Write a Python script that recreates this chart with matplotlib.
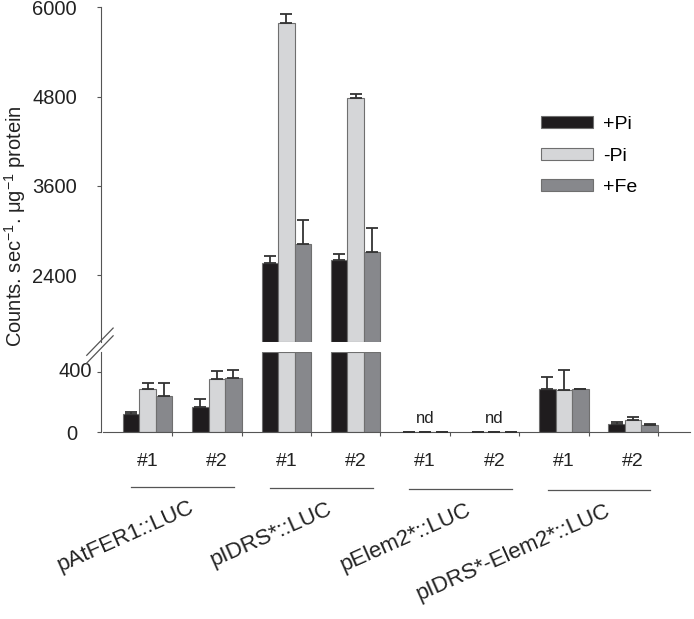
import numpy as np
import matplotlib
matplotlib.use('Agg')
from matplotlib import pyplot as plt

plt.rcParams['font.family'] = ['Liberation Sans', 'DejaVu Sans']
plt.rcParams['mathtext.fontset'] = 'custom'
plt.rcParams['mathtext.rm'] = 'Liberation Sans'
plt.rcParams['mathtext.it'] = 'Liberation Sans:italic'

# data (counts per sec per ug protein)
lines_lbl = ['#1', '#2', '#1', '#2', '#1', '#2', '#1', '#2']
constructs = ['pAtFER1::LUC', 'pIDRS*::LUC', 'pElem2*::LUC', 'pIDRS*-Elem2*::LUC']
series = ['+Pi', '-Pi', '+Fe']
plus_pi = [121, 169, 2563, 2599, 3, 3, 284, 57]
minus_pi = [286, 350, 5785, 4775, 3, 3, 279, 81]
plus_fe = [237, 360, 2824, 2711, 3, 3, 284, 46]
err_plus_pi = [10, 53, 94, 85, 0, 0, 81, 13]
err_minus_pi = [41, 52, 130, 62, 0, 0, 132, 18]
err_plus_fe = [90, 49, 313, 323, 0, 0, 5, 9]
nd_groups = [4, 5]

colors = ['#1f1c1e', '#d5d6d8', '#87888c']
edge = '#6f6f6f'
low_top = 528
up_lo, up_hi = 1500, 6000

vals = [plus_pi, minus_pi, plus_fe]
errs = [err_plus_pi, err_minus_pi, err_plus_fe]
x = np.arange(len(lines_lbl))
bw = 0.238
offs = [0.286, 0.524, 0.762]

fig = plt.figure(figsize=(6.94, 6.19), dpi=100)
ax_up = fig.add_axes([0.1451, 0.4475, 0.849, 0.5407])
ax_lo = fig.add_axes([0.1451, 0.3016, 0.849, 0.1292])

for ax in (ax_up, ax_lo):
    ax.set_xlim(-0.033, 8.46)
    for s in ('top', 'right'):
        ax.spines[s].set_visible(False)
    ax.spines['left'].set_color('#555555')
    ax.tick_params(axis='y', labelsize=14.5, length=3, color='#555555', labelcolor='#222222', pad=14)

for k in range(3):
    v = np.array(vals[k], dtype=float)
    e = np.array(errs[k], dtype=float)
    xs = x + offs[k]
    # lower part
    ax_lo.bar(xs, np.minimum(v, low_top), width=bw, align='edge', color=colors[k],
              edgecolor=edge, linewidth=0.8, label=series[k], zorder=2)
    m = v < low_top
    ax_lo.errorbar(xs[m] + bw / 2, v[m], yerr=[np.zeros(m.sum()), e[m]], fmt='none',
                   ecolor='#333333', elinewidth=1.3, capsize=4, capthick=1.3, zorder=3)
    # upper part
    h = v > up_lo
    ax_up.bar(xs[h], v[h] - up_lo, bottom=up_lo, width=bw, align='edge', color=colors[k],
              edgecolor=edge, linewidth=0.8, zorder=2)
    ax_up.errorbar(xs[h] + bw / 2, v[h], yerr=[np.zeros(h.sum()), e[h]], fmt='none',
                   ecolor='#333333', elinewidth=1.3, capsize=4, capthick=1.3, zorder=3)

ax_up.set_ylim(up_lo, up_hi)
ax_up.set_yticks([2400, 3600, 4800, 6000])
ax_up.spines['bottom'].set_visible(False)
ax_up.set_xticks([])

low_ticks = [0, 400]
ax_lo.set_ylim(0, low_top)
ax_lo.set_yticks(low_ticks)
ax_lo.set_yticklabels(['0', ''])
# the "400" label sits a little further right in the original
ax_lo.text(-0.0148, low_ticks[1], '400', transform=ax_lo.get_yaxis_transform(),
           ha='right', va='center', fontsize=14.5, color='#222222')
ax_lo.spines['bottom'].set_color('#555555')
ax_lo.spines['bottom'].set_bounds(0, 8.46)
ax_lo.set_xticks(np.arange(1, 9))
ax_lo.set_xticklabels([])
ax_lo.tick_params(axis='x', length=3, color='#555555', direction='out')

# break marks
d_kw = dict(transform=fig.transFigure, color='#555555', lw=0.9, clip_on=False)
for dy in (0, -0.0125):
    fig.add_artist(plt.Line2D([0.125, 0.163], [0.426 + dy, 0.470 + dy], **d_kw))

# line labels and group brackets
centers = x + 0.643
trans = ax_lo.get_xaxis_transform()
for c, t in zip(centers, lines_lbl):
    ax_lo.text(c, -0.37, t, transform=trans, ha='center', va='center', fontsize=14, color='#222222')
for g in nd_groups:
    ax_lo.text(centers[g], 0.17, 'nd', transform=trans, ha='center', va='center', fontsize=12, color='#222222')
for i, name in enumerate(constructs):
    x0, x1 = 2 * i + 0.41, 2 * i + 1.89
    yl = -0.68 - 0.015 * i
    ax_lo.plot([x0, x1], [yl, yl], transform=trans, color='#555555', lw=0.9, clip_on=False)
    ax_lo.text((x0 + x1) / 2 + 0.08, yl - 0.13, name, transform=trans, ha='right', va='top',
               rotation=24, rotation_mode='anchor', fontsize=16, color='#222222')

fig.text(0.022, 0.635, r'Counts. sec$^{-1}$. $\mathrm{\mu}$g$^{-1}$ protein', rotation=90,
         ha='center', va='center', fontsize=14.5, color='#222222')

ax_lo.legend(loc='upper left', bbox_to_anchor=(0.768, 0.8253), bbox_transform=fig.transFigure,
             frameon=False, fontsize=14, handlelength=2.7, handleheight=0.6,
             labelspacing=0.75, handletextpad=0.5, borderaxespad=0)

plt.savefig('out.png', dpi=100)
